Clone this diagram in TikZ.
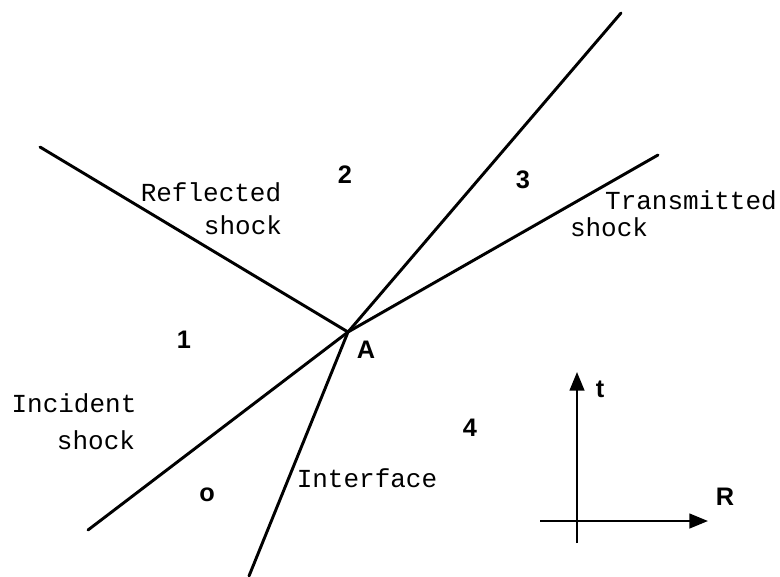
\documentclass[tikz,border=0pt]{standalone}
\usepackage{fontspec}
\setmonofont{Liberation Mono}
\setsansfont{Liberation Sans}
\usetikzlibrary{arrows.meta}
\tikzset{
  wave/.style={line width=2.2pt, line cap=round},
  axis/.style={line width=1.8pt, -{Triangle[length=14pt, width=11pt]}},
  tlabel/.style={font=\ttfamily\fontsize{19.5}{22}\selectfont, inner sep=0pt},
  hand/.style={font=\sffamily\bfseries\fontsize{19}{20}\selectfont, inner sep=0pt}
}
\begin{document}
\begin{tikzpicture}[x=0.75pt, y=-0.75pt]
  \useasboundingbox (0,0) rectangle (780,576);
  % wave diagram, pixel coordinates
  \coordinate (A) at (348,332);
  \coordinate (refl) at (40,147);
  \coordinate (trans) at (658,155);
  \coordinate (inc) at (88,530);
  \coordinate (ifbot) at (249,576);
  \coordinate (iftop) at (621,13);
  \draw[wave] (refl) -- (A);
  \draw[wave] (A) -- (trans);
  \draw[wave] (inc) -- (A);
  \draw[wave] (ifbot) -- (A) -- (iftop);
  % regions
  \node[hand] (r2) at (345,175) {2};
  \node[hand] (r3) at (523,180) {3};
  \node[hand] (r1) at (184,340) {1};
  \node[hand] (r4) at (470,428) {4};
  \node[hand] (r0) at (207,495) {o};
  \node[hand] (lA) at (366,350) {A};
  % texts
  \node[tlabel] (lrefl) at (211,192) {Reflected};
  \node[tlabel] (lrefl2) at (243,225) {shock};
  \node[tlabel] (ltrans) at (691,200) {Transmitted};
  \node[tlabel] (ltrans2) at (609,227) {shock};
  \node[tlabel] (linc) at (74,403) {Incident};
  \node[tlabel] (linc2) at (96,440) {shock};
  \node[tlabel] (lif) at (367,478) {Interface};
  % axes
  \coordinate (tbot) at (577,543);
  \coordinate (ttop) at (577,372);
  \coordinate (rleft) at (540,521);
  \coordinate (rright) at (708,521);
  \draw[axis] (tbot) -- (ttop);
  \draw[axis] (rleft) -- (rright);
  \node[hand] (lt) at (600,389) {t};
  \node[hand] (lR) at (725,497) {R};
\end{tikzpicture}
\end{document}
